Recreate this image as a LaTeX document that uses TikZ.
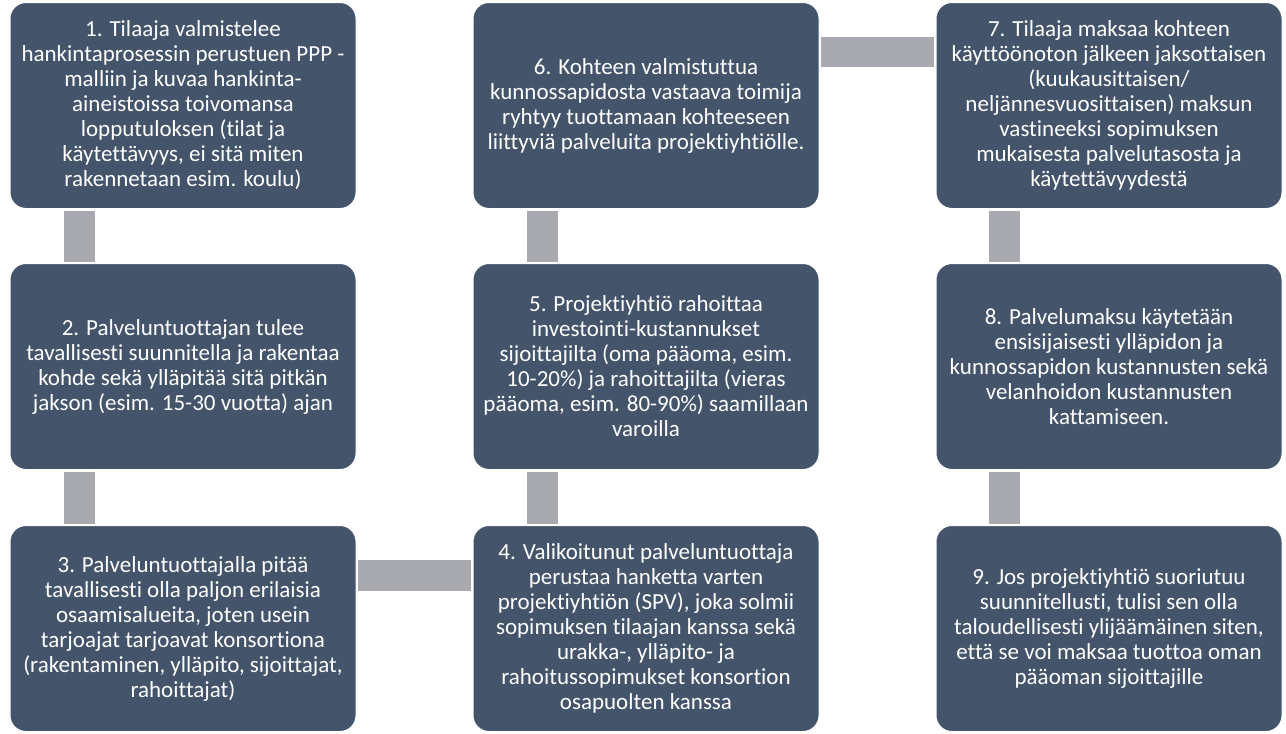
\documentclass[tikz,border=0pt]{standalone}
\usepackage{fontspec}
\setmainfont{Carlito}[Ligatures={NoCommon}]
\definecolor{boxc}{HTML}{44546A}
\definecolor{connc}{RGB}{168,170,175}
\begin{document}
\begin{tikzpicture}[x=1pt,y=-1pt,
  stepbox/.style={rounded corners=16pt, fill=boxc, draw=white, line width=1pt,
    text=white, align=center, minimum width=346pt, minimum height=206pt, inner sep=0pt,
    font=\fontsize{23}{25}\selectfont},
  conn/.style={draw=connc, line width=31pt}]
\useasboundingbox (0,0) rectangle (1286,734);
\fill[white] (0,0) rectangle (1286,734);
\node[stepbox] (b1) at (183,105.5) {1. Tilaaja valmistelee\\hankintaprosessin perustuen PPP -\\malliin ja kuvaa hankinta-\\aineistoissa toivomansa\\lopputuloksen (tilat ja\\käytettävyys, ei sitä miten\\rakennetaan esim. koulu)};
\node[stepbox] (b2) at (183,366.5) {2. Palveluntuottajan tulee\\tavallisesti suunnitella ja rakentaa\\kohde sekä ylläpitää sitä pitkän\\jakson (esim. 15-30 vuotta) ajan};
\node[stepbox] (b3) at (183,628.5) {3. Palveluntuottajalla pitää\\tavallisesti olla paljon erilaisia\\osaamisalueita, joten usein\\tarjoajat tarjoavat konsortiona\\(rakentaminen, ylläpito, sijoittajat,\\rahoittajat)};
\node[stepbox] (b4) at (646,628.5) {4. Valikoitunut palveluntuottaja\\perustaa hanketta varten\\projektiyhtiön (SPV), joka solmii\\sopimuksen tilaajan kanssa sekä\\urakka-, ylläpito- ja\\rahoitussopimukset konsortion\\osapuolten kanssa};
\node[stepbox] (b5) at (646,366.5) {5. Projektiyhtiö rahoittaa\\investointi-kustannukset\\sijoittajilta (oma pääoma, esim.\\10-20\%) ja rahoittajilta (vieras\\pääoma, esim. 80-90\%) saamillaan\\varoilla};
\node[stepbox] (b6) at (646,105.5) {6. Kohteen valmistuttua\\kunnossapidosta vastaava toimija\\ryhtyy tuottamaan kohteeseen\\liittyviä palveluita projektiyhtiölle.};
\node[stepbox] (b7) at (1109,105.5) {7. Tilaaja maksaa kohteen\\käyttöönoton jälkeen jaksottaisen\\(kuukausittaisen/\\neljännesvuosittaisen) maksun\\vastineeksi sopimuksen\\mukaisesta palvelutasosta ja\\käytettävyydestä};
\node[stepbox] (b8) at (1109,366.5) {8. Palvelumaksu käytetään\\ensisijaisesti ylläpidon ja\\kunnossapidon kustannusten sekä\\velanhoidon kustannusten\\kattamiseen.};
\node[stepbox] (b9) at (1109,628.5) {9. Jos projektiyhtiö suoriutuu\\suunnitellusti, tulisi sen olla\\taloudellisesti ylijäämäinen siten,\\että se voi maksaa tuottoa oman\\pääoman sijoittajille};
\draw[conn] ([xshift=69.5pt,yshift=-1.5pt]b1.south west) -- ([xshift=69.5pt,yshift=1.5pt]b2.north west);
\draw[conn] ([xshift=69.5pt,yshift=-1.5pt]b2.south west) -- ([xshift=69.5pt,yshift=1.5pt]b3.north west);
\draw[conn, line width=31pt] ([yshift=-50pt,xshift=1.5pt]b3.north east) -- ([yshift=-50pt,xshift=-1.5pt]b4.north west);
\draw[conn] ([xshift=69.5pt,yshift=1.5pt]b4.north west) -- ([xshift=69.5pt,yshift=-1.5pt]b5.south west);
\draw[conn] ([xshift=69.5pt,yshift=1.5pt]b5.north west) -- ([xshift=69.5pt,yshift=-1.5pt]b6.south west);
\draw[conn, line width=30pt] ([yshift=-50pt,xshift=1.5pt]b6.north east) -- ([yshift=-50pt,xshift=-1.5pt]b7.north west);
\draw[conn] ([xshift=69pt,yshift=-1.5pt]b7.south west) -- ([xshift=69pt,yshift=1.5pt]b8.north west);
\draw[conn] ([xshift=69pt,yshift=-1.5pt]b8.south west) -- ([xshift=69pt,yshift=1.5pt]b9.north west);
\end{tikzpicture}
\end{document}
